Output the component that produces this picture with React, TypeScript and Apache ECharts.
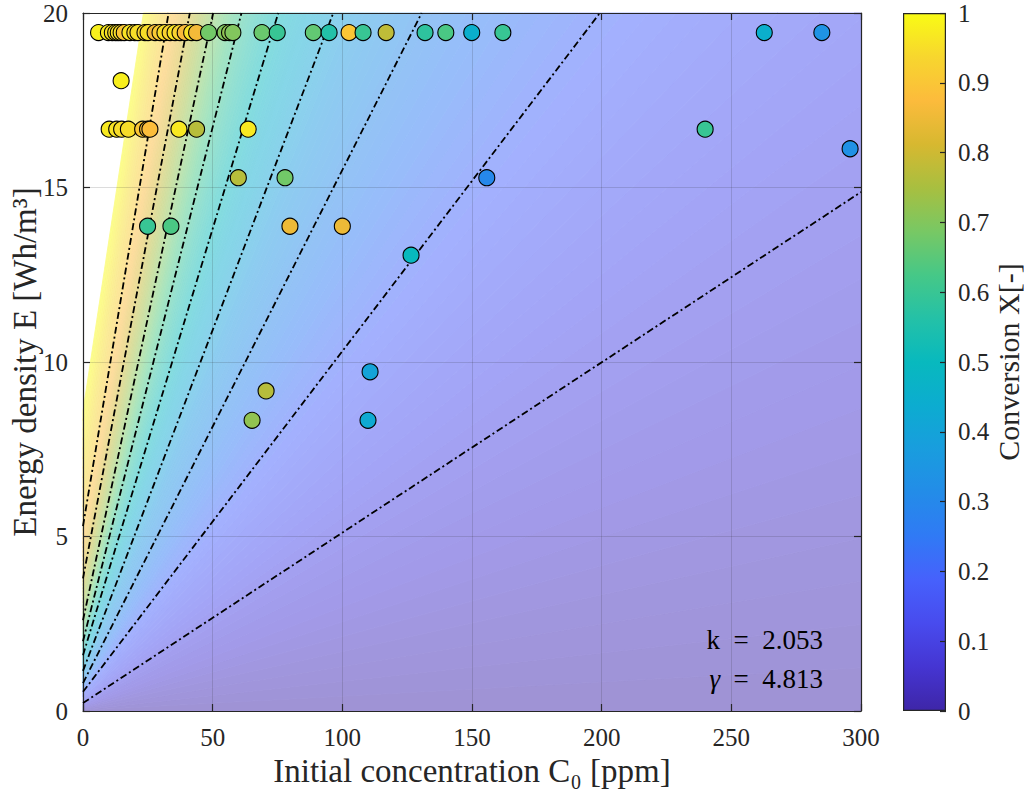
import React, { useEffect, useRef } from "react";
import * as echarts from "echarts";

// ---------- axes ----------
const X_MIN = 0;
const X_MAX = 300;
const X_STEP = 50;
const Y_MIN = 0;
const Y_MAX = 20;
const Y_STEP = 5;
const CB_MIN = 0;
const CB_MAX = 1;
const CB_STEP = 0.1;

// ---------- iso-conversion lines (dash-dot) ----------
const ISO_LEVELS = [0.1, 0.2, 0.3, 0.4, 0.5, 0.6, 0.7, 0.8, 0.9];
const ISO_START_E = [0.23, 0.55, 0.8, 1.15, 1.6, 2.0, 2.6, 3.8, 5.3]; // E at C0 = 0
const ISO_END_C0 = [300, 199.3, 130.6, 96.5, 75.3, 61.1, 50.2, 41.2, 33.0];
const ISO_END_E = [14.87, 20, 20, 20, 20, 20, 20, 20, 20];
// full-conversion edge of the shaded model field (white beyond it)
const EDGE_LEVEL = 1.0;
const EDGE_START_E = 8.6;
const EDGE_END_C0 = 23.3;
const EDGE_END_E = 20;

// ---------- measured points (grouped by energy density row) ----------
const ROW_E = [19.44, 18.06, 16.67, 16.11, 15.28, 13.89, 13.06, 9.72, 9.17, 8.33];
const ROW_C0 = [
  [6.0, 9.8, 11.3, 12.6, 13.6, 14.7, 15.9, 18.1, 20.0, 21.2, 23.9, 25.1, 27.8, 29.7, 31.6, 33.6, 35.5, 37.4, 39.4, 41.9, 43.8, 48.4, 54.8, 56.5, 57.8, 69.0, 74.9, 88.8, 94.9, 102.6, 108.0, 116.9, 131.9, 139.9, 149.9, 161.9, 262.7, 284.9],
  [14.7],
  [10.1, 13.0, 14.9, 17.5, 23.0, 24.9, 25.8, 37.0, 43.8, 63.7, 239.9],
  [295.8],
  [59.9, 77.9, 155.7],
  [24.9, 33.9, 79.8, 100.0],
  [126.5],
  [110.7],
  [70.6],
  [65.2, 109.9],
];
const ROW_X = [
  [0.98, 0.97, 0.96, 0.95, 0.96, 0.95, 0.9, 0.96, 0.94, 0.95, 0.93, 0.95, 0.86, 0.91, 0.95, 0.93, 0.96, 0.93, 0.87, 0.96, 0.86, 0.68, 0.7, 0.72, 0.7, 0.67, 0.6, 0.66, 0.56, 0.9, 0.6, 0.78, 0.58, 0.63, 0.45, 0.6, 0.45, 0.34],
  [0.98],
  [0.97, 0.96, 0.95, 0.95, 0.9, 0.89, 0.88, 0.97, 0.77, 0.97, 0.6],
  [0.33],
  [0.77, 0.68, 0.3],
  [0.6, 0.63, 0.85, 0.85],
  [0.5],
  [0.4],
  [0.77],
  [0.72, 0.43],
];

const PARAM_K = "2.053";
const PARAM_GAMMA = "4.813";

// ---------- styling ----------
const PARULA = [
  "#3e26a8", "#4535d2", "#484bee", "#4661fc", "#307af5", "#238ce8", "#199dde",
  "#0cacd0", "#08b9be", "#24c1a7", "#46c887", "#78c864", "#a8bf40", "#d7b830",
  "#fcbb3c", "#f7d62e", "#f9fb15",
];
const FIELD_ALPHA = 0.5;
const SUBSTEPS = 12;
const FONT = "Liberation Serif";
const INK = "#262626";

function hexToRgb(h: string): number[] {
  return [parseInt(h.slice(1, 3), 16), parseInt(h.slice(3, 5), 16), parseInt(h.slice(5, 7), 16)];
}
const PARULA_RGB = PARULA.map(hexToRgb);
function parulaAt(v: number): number[] {
  const t = Math.max(0, Math.min(1, v)) * (PARULA_RGB.length - 1);
  const i = Math.min(PARULA_RGB.length - 2, Math.floor(t));
  const f = t - i;
  const a = PARULA_RGB[i];
  const b = PARULA_RGB[i + 1];
  return [0, 1, 2].map((k) => a[k] + (b[k] - a[k]) * f);
}
function fieldColor(v: number): string {
  const c = parulaAt(v).map((x) => Math.round(255 - (255 - x) * FIELD_ALPHA));
  return `rgb(${c[0]},${c[1]},${c[2]})`;
}

// level lines of the field: X = 0 is the C0 axis, then the iso lines, then the edge
const LEV = [0, ...ISO_LEVELS, EDGE_LEVEL];
const LEV_A = [0, ...ISO_START_E, EDGE_START_E];
const LEV_B = [
  0,
  ...ISO_START_E.map((a, i) => (ISO_END_E[i] - a) / ISO_END_C0[i]),
  (EDGE_END_E - EDGE_START_E) / EDGE_END_C0,
];
function lineAt(v: number): number[] {
  let i = 0;
  while (i < LEV.length - 2 && v > LEV[i + 1]) i++;
  const f = (v - LEV[i]) / (LEV[i + 1] - LEV[i]);
  return [LEV_A[i] + (LEV_A[i + 1] - LEV_A[i]) * f, LEV_B[i] + (LEV_B[i + 1] - LEV_B[i]) * f];
}
function clipAbove(poly: number[][], yMax: number): number[][] {
  const out: number[][] = [];
  for (let i = 0; i < poly.length; i++) {
    const p = poly[i];
    const q = poly[(i + 1) % poly.length];
    const pin = p[1] <= yMax;
    const qin = q[1] <= yMax;
    if (pin) out.push(p);
    if (pin !== qin) {
      const t = (yMax - p[1]) / (q[1] - p[1]);
      out.push([p[0] + t * (q[0] - p[0]), yMax]);
    }
  }
  return out;
}

function tickLabel(margin: number) {
  return { fontFamily: FONT, fontSize: 25, color: INK, margin: margin };
}
function nameText(size: number) {
  return { fontFamily: FONT, fontSize: size, color: INK };
}

const App: React.FC = () => {
  const ref = useRef<HTMLDivElement>(null);

  useEffect(() => {
    if (!ref.current) return;
    const chart = echarts.init(ref.current, undefined, { renderer: "svg" });

    const bands: number[][] = [];
    for (let i = 0; i < LEV.length - 1; i++) {
      for (let j = 0; j < SUBSTEPS; j++) {
        const lo = LEV[i] + ((LEV[i + 1] - LEV[i]) * j) / SUBSTEPS;
        const hi = LEV[i] + ((LEV[i + 1] - LEV[i]) * (j + 1)) / SUBSTEPS;
        bands.push([lo, hi]);
      }
    }

    const points: number[][] = [];
    ROW_E.forEach((e, r) => {
      ROW_C0[r].forEach((c, k) => points.push([c, e, ROW_X[r][k]]));
    });

    const isoSeries = ISO_LEVELS.map((lv, i) => ({
      type: "line",
      name: `X=${lv}`,
      xAxisIndex: 0,
      yAxisIndex: 0,
      data: [
        [0, ISO_START_E[i]],
        [ISO_END_C0[i], ISO_END_E[i]],
      ],
      symbol: "none",
      silent: true,
      z: 3,
      lineStyle: { color: "#000", width: 1.8, type: [7, 3, 2, 3] },
    }));

    const option: any = {
      animation: false,
      backgroundColor: "#ffffff",
      textStyle: { fontFamily: FONT },
      grid: [
        { left: 83, right: 163, top: 13, bottom: 81, containLabel: false, outerBoundsMode: "none" },
        { left: 903, width: 43, top: 13, bottom: 81, containLabel: false, outerBoundsMode: "none" },
      ],
      xAxis: [
        {
          type: "value", gridIndex: 0, min: X_MIN, max: X_MAX, interval: X_STEP, position: "bottom",
          axisLine: { show: true, onZero: false, lineStyle: { color: INK, width: 1.2 } },
          axisTick: { show: true, inside: true, length: 7, lineStyle: { color: INK, width: 1.2 } },
          axisLabel: tickLabel(14),
          splitLine: { show: true, lineStyle: { color: "rgba(38,38,38,0.16)", width: 1 } },
          name: "Initial concentration C\u2080 [ppm]",
          nameLocation: "middle", nameGap: 43, nameMoveOverlap: false, nameTextStyle: nameText(33),
        },
        {
          type: "value", gridIndex: 0, min: X_MIN, max: X_MAX, interval: X_STEP, position: "top",
          axisLine: { show: true, onZero: false, lineStyle: { color: INK, width: 1.2 } },
          axisTick: { show: true, inside: true, length: 7, lineStyle: { color: INK, width: 1.2 } },
          axisLabel: { show: false }, splitLine: { show: false },
        },
        {
          type: "category", gridIndex: 1, data: ["X"], show: false,
        },
      ],
      yAxis: [
        {
          type: "value", gridIndex: 0, min: Y_MIN, max: Y_MAX, interval: Y_STEP, position: "left",
          axisLine: { show: true, onZero: false, lineStyle: { color: INK, width: 1.2 } },
          axisTick: { show: true, inside: true, length: 7, lineStyle: { color: INK, width: 1.2 } },
          axisLabel: tickLabel(15),
          splitLine: { show: true, lineStyle: { color: "rgba(38,38,38,0.16)", width: 1 } },
          name: "Energy density E [Wh/m\u00b3]",
          nameLocation: "middle", nameGap: 42, nameRotate: 90, nameMoveOverlap: false,
          nameTextStyle: nameText(33),
        },
        {
          type: "value", gridIndex: 0, min: Y_MIN, max: Y_MAX, interval: Y_STEP, position: "right",
          axisLine: { show: true, onZero: false, lineStyle: { color: INK, width: 1.2 } },
          axisTick: { show: true, inside: true, length: 7, lineStyle: { color: INK, width: 1.2 } },
          axisLabel: { show: false }, splitLine: { show: false },
        },
        {
          type: "value", gridIndex: 1, min: CB_MIN, max: CB_MAX, interval: CB_STEP, position: "right",
          axisLine: { show: false },
          axisTick: { show: true, inside: true, length: 6, lineStyle: { color: INK, width: 1.2 } },
          axisLabel: tickLabel(12),
          splitLine: { show: false },
          name: "Conversion X[-]",
          nameLocation: "middle", nameGap: 47, nameRotate: 90, nameMoveOverlap: false,
          nameTextStyle: nameText(30),
          z: 5,
        },
      ],
      visualMap: {
        type: "continuous", show: false, min: CB_MIN, max: CB_MAX, dimension: 2,
        seriesIndex: 1, inRange: { color: PARULA },
      },
      series: [
        {
          type: "custom",
          name: "field",
          xAxisIndex: 0,
          yAxisIndex: 0,
          silent: true,
          z: -1,
          data: bands,
          renderItem: (params: any, api: any) => {
            const lo = api.value(0);
            const hi = api.value(1);
            const [aL, bL] = lineAt(lo);
            const [aH, bH] = lineAt(hi);
            let poly = [
              [X_MIN, aL],
              [X_MAX, aL + bL * X_MAX],
              [X_MAX, aH + bH * X_MAX],
              [X_MIN, aH],
            ];
            poly = clipAbove(poly, Y_MAX);
            if (poly.length < 3) return null;
            const col = fieldColor((lo + hi) / 2);
            return {
              type: "polygon",
              shape: { points: poly.map((p) => api.coord(p)) },
              style: { fill: col, stroke: col, lineWidth: 0.9 },
            };
          },
        },
        {
          type: "scatter",
          name: "measured",
          xAxisIndex: 0,
          yAxisIndex: 0,
          data: points,
          symbol: "circle",
          symbolSize: 16,
          z: 6,
          itemStyle: { borderColor: "#000", borderWidth: 1.1, opacity: 1 },
        },
        ...isoSeries,
        {
          type: "bar",
          name: "colorbar",
          xAxisIndex: 2,
          yAxisIndex: 2,
          data: [CB_MAX],
          barWidth: "100%",
          silent: true,
          itemStyle: {
            color: new echarts.graphic.LinearGradient(
              0, 1, 0, 0,
              PARULA.map((c, i) => ({ offset: i / (PARULA.length - 1), color: c }))
            ),
            borderColor: INK,
            borderWidth: 1.2,
          },
        },
      ],
      graphic: [
        {
          type: "text", right: 1024 - 823, top: 626, z: 10,
          style: { text: `k\u2002=\u2002${PARAM_K}`, fontFamily: FONT, fontSize: 27, fill: "#000" },
        },
        {
          type: "text", right: 1024 - 823, top: 665, z: 10,
          style: {
            text: `{g|\u03b3}\u2002=\u2002${PARAM_GAMMA}`,
            fontFamily: FONT, fontSize: 27, fill: "#000",
            rich: { g: { fontStyle: "italic", fontFamily: FONT, fontSize: 27, fill: "#000" } },
          },
        },
      ],
    };

    chart.setOption(option);
    return () => chart.dispose();
  }, []);

  return (
    <div
      ref={ref}
      style={{ position: "fixed", left: 0, top: 0, width: 1024, height: 792, background: "#fff" }}
    />
  );
};

export default App;
